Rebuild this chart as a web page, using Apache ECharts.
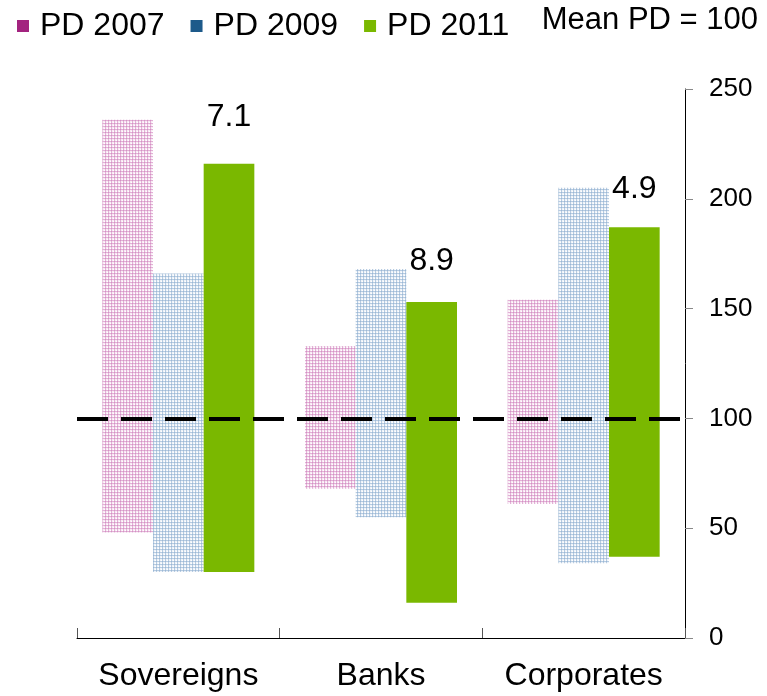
<!DOCTYPE html>
<html>
<head>
<meta charset="utf-8">
<script src="https://cdn.jsdelivr.net/npm/echarts@6/dist/echarts.min.js"></script>
<style>
  html, body { margin: 0; padding: 0; background: #fff; }
  #chart { width: 767px; height: 696px; }
</style>
</head>
<body>
<div id="chart"></div>
<script>
const categories = ['Sovereigns', 'Banks', 'Corporates'];
const seriesNames = ['PD 2007', 'PD 2009', 'PD 2011'];
// low / high of each floating bar
const low2007 = [48, 68, 61];
const high2007 = [236, 133, 154];
const low2009 = [30, 55, 34];
const high2009 = [166, 168, 205];
const low2011 = [30, 16, 37];
const high2011 = [216, 153, 187];
const labels2011 = ['7.1', '8.9', '4.9'];
const meanPD = 100;
const yTicks = [0, 50, 100, 150, 200, 250];

const FONT = 'Liberation Sans, Arial, sans-serif';

function makeTile(line, cross, cell) {
    const c = document.createElement('canvas');
    c.width = 3; c.height = 3;
    const g = c.getContext('2d');
    g.fillStyle = cell; g.fillRect(0, 0, 3, 3);
    g.fillStyle = line; g.fillRect(0, 0, 1, 3); g.fillRect(0, 0, 3, 1);
    g.fillStyle = cross; g.fillRect(0, 0, 1, 1);
    g.fillStyle = '#ffffff'; g.fillRect(2, 2, 1, 1);
    return { image: c, repeat: 'repeat' };
}

document.addEventListener('DOMContentLoaded', function() {
    const chart = echarts.init(document.getElementById('chart'));

    const pinkPattern = makeTile('#e2b0d6', '#d493c4', '#f8ebf4');
    const bluePattern = makeTile('#b6cbe1', '#9cb8d5', '#f0f4f9');
    const legendColors = ['#a3237f', '#1d5a8a', '#7ab800'];

    const diff = (hi, lo) => hi.map((v, i) => v - lo[i]);

    function baseSeries(stack, lows) {
        return {
            type: 'bar', stack: stack, data: lows, silent: true,
            itemStyle: { color: 'transparent' },
            barGap: '0%', barCategoryGap: '25%'
        };
    }

    const labelDist = [30, 25, 22];

    chart.setOption({
        animation: false,
        backgroundColor: '#fff',
        textStyle: { fontFamily: FONT },
        grid: { left: 77, right: 82, top: 89, bottom: 58 },
        legend: {
            left: 12, top: 5,
            icon: 'rect', itemWidth: 12, itemHeight: 12, itemGap: 26,
            textStyle: { fontSize: 32, color: '#000', fontFamily: FONT, padding: [0, 0, 0, 6] },
            data: seriesNames.map((n, i) => ({ name: n, itemStyle: { color: legendColors[i] } }))
        },
        graphic: [{
            type: 'text', right: 9, top: 5,
            style: { text: 'Mean PD = ' + meanPD, fontSize: 31, fill: '#000', fontFamily: FONT }
        }],
        xAxis: {
            type: 'category', data: categories,
            axisLine: { lineStyle: { color: '#000', width: 1 } },
            axisTick: { show: true, inside: true, length: 10, interval: 0, lineStyle: { color: '#555' } },
            axisLabel: { fontSize: 32, color: '#000', margin: 22, interval: 0, hideOverlap: false, fontFamily: FONT }
        },
        yAxis: {
            type: 'value', position: 'right', min: 0, max: 250, interval: 50,
            axisLine: { show: true, lineStyle: { color: '#000', width: 1 } },
            axisTick: { show: true, length: 8, lineStyle: { color: '#888' } },
            axisLabel: {
                fontSize: 26, color: '#000', margin: 24, fontFamily: FONT,
                formatter: v => yTicks.includes(v) ? String(v) : ''
            },
            splitLine: { show: false }
        },
        series: [
            baseSeries('a', low2007),
            { name: seriesNames[0], type: 'bar', stack: 'a', data: diff(high2007, low2007),
              itemStyle: { color: pinkPattern } },
            baseSeries('b', low2009),
            { name: seriesNames[1], type: 'bar', stack: 'b', data: diff(high2009, low2009),
              itemStyle: { color: bluePattern } },
            baseSeries('c', low2011),
            { name: seriesNames[2], type: 'bar', stack: 'c',
              data: diff(high2011, low2011).map((v, i) => ({
                  value: v,
                  label: { show: true, position: 'top', distance: labelDist[i], formatter: labels2011[i],
                           fontSize: 32, color: '#000', fontFamily: FONT }
              })),
              itemStyle: { color: '#7ab800' } },
            { type: 'line', data: [], z: 10,
              markLine: {
                  silent: true, symbol: ['none', 'none'], label: { show: false },
                  lineStyle: { color: '#000', width: 4, type: [31, 13] },
                  data: [{ yAxis: meanPD }]
              } }
        ]
    });

    window.addEventListener('resize', () => chart.resize());
});
</script>
</body>
</html>
